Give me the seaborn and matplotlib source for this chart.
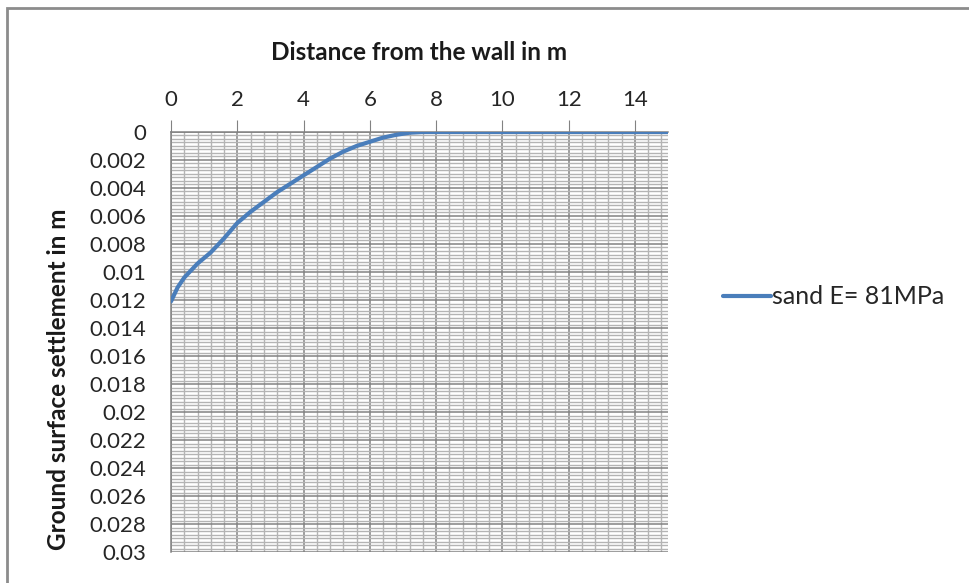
import numpy as np
import pandas as pd
import matplotlib
matplotlib.use("Agg")
import matplotlib.pyplot as plt
import seaborn as sns
from matplotlib.ticker import MultipleLocator
from matplotlib.patches import Rectangle

# Data
distance = [0, 0.2, 0.4, 0.8, 1.2, 1.6, 2.0, 2.4, 2.8, 3.2, 3.6, 4.0, 4.4, 4.8, 5.2, 5.6,
            6.0, 6.4, 6.8, 7.2, 7.6, 8.0, 10.0, 12.0, 14.0, 15.0]
settlement = [0.0121, 0.0111, 0.0104, 0.0094, 0.0086, 0.0076, 0.0065, 0.0057, 0.0050,
              0.0043, 0.0037, 0.0031, 0.0025, 0.0019, 0.0014, 0.0010, 0.0007, 0.0004,
              0.0002, 0.00005, 0.0, 0.0, 0.0, 0.0, 0.0, 0.0]
series_name = "sand E= 81MPa"
x_label = "Distance from the wall in m"
y_label = "Ground surface settlement in m"
y_tick_values = [0, 0.002, 0.004, 0.006, 0.008, 0.01, 0.012, 0.014, 0.016, 0.018,
                 0.02, 0.022, 0.024, 0.026, 0.028, 0.03]
y_tick_labels = ["0", "0.002", "0.004", "0.006", "0.008", "0.01", "0.012", "0.014",
                 "0.016", "0.018", "0.02", "0.022", "0.024", "0.026", "0.028", "0.03"]

df = pd.DataFrame({"x": distance, "y": settlement, "series": series_name})

sns.set_style("white")
plt.rcParams['font.family'] = ['Lato', 'DejaVu Sans']

W, H = 969, 583
fig = plt.figure(figsize=(W / 100, H / 100), dpi=100)
ax = fig.add_axes([171 / W, 1 - 552 / H, (668 - 171) / W, (552 - 132) / H])

# outer chart border
fig.patches.append(Rectangle((7 / W, -0.05), 1.2, 1 - 8 / H + 0.05, transform=fig.transFigure,
                             fill=False, edgecolor="#8c8c8c", linewidth=2.0))

line_color = "#4A7EBB"
sns.lineplot(data=df, x="x", y="y", hue="series", palette=[line_color], linewidth=3.0,
             ax=ax, legend=False, zorder=5)

ax.set_xlim(0, 15)
ax.set_ylim(0.03, 0)

ax.xaxis.set_major_locator(MultipleLocator(2))
ax.xaxis.set_minor_locator(MultipleLocator(0.4))
ax.set_yticks(y_tick_values)
ax.set_yticklabels(y_tick_labels)
ax.yaxis.set_minor_locator(MultipleLocator(0.00025))

ax.grid(which="major", color="#828282", linewidth=1.1)
ax.grid(which="minor", color="#b4b4b4", linewidth=1.0)
ax.set_axisbelow(True)

ax.xaxis.tick_top()
ax.xaxis.set_label_position("top")
ax.tick_params(axis="x", which="major", direction="out", length=9, color="#828282",
               labelsize=16, labelcolor="#262626", pad=7)
ax.tick_params(axis="y", which="major", direction="out", length=8, color="#828282",
               labelsize=16, labelcolor="#262626", pad=10)
ax.tick_params(which="minor", length=0)

for s in ["right", "bottom"]:
    ax.spines[s].set_visible(False)
for s in ["left", "top"]:
    ax.spines[s].set_color("#828282")
    ax.spines[s].set_linewidth(1.1)

ax.set_xlabel(x_label, fontsize=17.5, fontweight="bold", color="#1a1a1a")
ax.xaxis.set_label_coords(0.5, 1 + (132 - 60) / (552 - 132), transform=ax.transAxes)
ax.set_ylabel(y_label, fontsize=17.5, fontweight="bold", color="#1a1a1a")
ax.yaxis.set_label_coords(-(171 - 70) / (668 - 171), (552 - 379) / (552 - 132))

# legend
ax.legend(handles=[plt.Line2D([], [], color=line_color, linewidth=3.0)], labels=[series_name],
          loc="center left", bbox_to_anchor=(713 / W, 1 - 297 / H), bbox_transform=fig.transFigure,
          frameon=False, fontsize=18, handlelength=1.9, handletextpad=0.05,
          borderaxespad=0, labelcolor="#262626")

fig.savefig("out.png", dpi=100, facecolor="white")
